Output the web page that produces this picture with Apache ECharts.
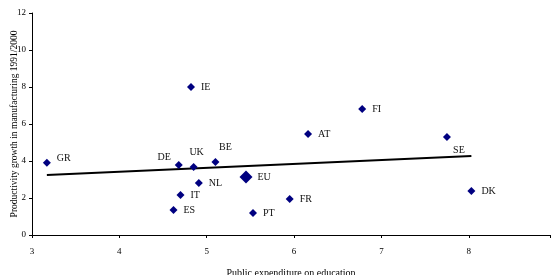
<!DOCTYPE html>
<html>
<head>
<meta charset="utf-8">
<script src="https://cdn.jsdelivr.net/npm/echarts@6/dist/echarts.min.js"></script>
<style>
  html, body { margin: 0; padding: 0; background: #fff; }
  #main { width: 552px; height: 275px; }
</style>
</head>
<body>
<div id="main"></div>
<script>
// countries and values
var countries = ['GR', 'DE', 'UK', 'BE', 'NL', 'IT', 'ES', 'PT', 'FR', 'AT', 'IE', 'FI', 'SE', 'DK'];
var expenditure = [3.17, 4.68, 4.85, 5.10, 4.91, 4.70, 4.62, 5.53, 5.95, 6.16, 4.82, 6.78, 7.75, 8.03];
var productivity = [3.9, 3.78, 3.68, 3.95, 2.81, 2.16, 1.35, 1.19, 1.95, 5.46, 8.0, 6.81, 5.3, 2.38];

var euPoint = [5.45, 3.13];

// trend line end points
var trendX = [3.17, 8.03];
var trendY = [3.24, 4.27];

var xTicks = [3, 4, 5, 6, 7, 8];
var yTicks = [0, 2, 4, 6, 8, 10, 12];

// label placement (style only)
var labelPos = {
  DE: { position: 'left', offset: [2, -8] },
  UK: { position: 'top', offset: [3, 0] },
  BE: { position: 'top', offset: [10, 0] },
  SE: { position: 'bottom', offset: [12, -2] },
  GR: { position: 'right', offset: [0, -4] }
};

var chart = echarts.init(document.getElementById('main'));

var pts = countries.map(function (c, i) {
  var p = { name: c, value: [expenditure[i], productivity[i]] };
  if (labelPos[c]) p.label = labelPos[c];
  return p;
});

var fontFam = '"Liberation Serif", "DejaVu Serif", serif';

var option = {
  backgroundColor: '#ffffff',
  animation: false,
  grid: { left: 32, top: 13, right: 2, bottom: 40, outerBoundsMode: 'none', containLabel: false },
  xAxis: {
    type: 'value',
    min: 3,
    max: 8.93,
    interval: 1,
    name: 'Public expenditure on education',
    nameLocation: 'middle',
    nameGap: 33,
    nameMoveOverlap: false,
    nameTextStyle: { color: '#000', fontSize: 10, fontFamily: fontFam },
    axisLine: { show: true, lineStyle: { color: '#000', width: 1 } },
    axisTick: { show: true, length: 3, lineStyle: { color: '#000' } },
    axisLabel: {
      color: '#000', fontSize: 9, fontFamily: fontFam, margin: 12,
      formatter: function (v) { return xTicks.indexOf(v) >= 0 ? v : ''; }
    },
    splitLine: { show: false }
  },
  yAxis: {
    type: 'value',
    min: 0,
    max: 12,
    interval: 2,
    name: 'Productivity growth in manufacturing 1991/2000',
    nameLocation: 'middle',
    nameGap: 13,
    nameMoveOverlap: false,
    nameTextStyle: { color: '#000', fontSize: 9.5, fontFamily: fontFam },
    axisLine: { show: true, lineStyle: { color: '#000', width: 1 } },
    axisTick: { show: true, length: 3, lineStyle: { color: '#000' } },
    axisLabel: {
      color: '#000', fontSize: 9, fontFamily: fontFam, margin: 6,
      formatter: function (v) { return yTicks.indexOf(v) >= 0 ? v : ''; }
    },
    splitLine: { show: false }
  },
  series: [
    {
      type: 'line',
      data: trendX.map(function (x, i) { return [x, trendY[i]]; }),
      symbol: 'none',
      lineStyle: { color: '#000', width: 2 },
      z: 1
    },
    {
      type: 'scatter',
      symbol: 'diamond',
      symbolSize: 8,
      itemStyle: { color: '#000080', opacity: 1 },
      data: pts,
      label: {
        show: true,
        position: 'right',
        distance: 6,
        formatter: '{b}',
        color: '#111',
        fontSize: 10,
        fontFamily: fontFam
      },
      z: 3
    },
    {
      type: 'scatter',
      symbol: 'diamond',
      symbolSize: 13,
      itemStyle: { color: '#000080', opacity: 1 },
      data: [{ name: 'EU', value: euPoint }],
      label: {
        show: true,
        position: 'right',
        distance: 5,
        formatter: '{b}',
        color: '#111',
        fontSize: 10,
        fontFamily: fontFam
      },
      z: 3
    }
  ]
};

chart.setOption(option);
</script>
</body>
</html>
